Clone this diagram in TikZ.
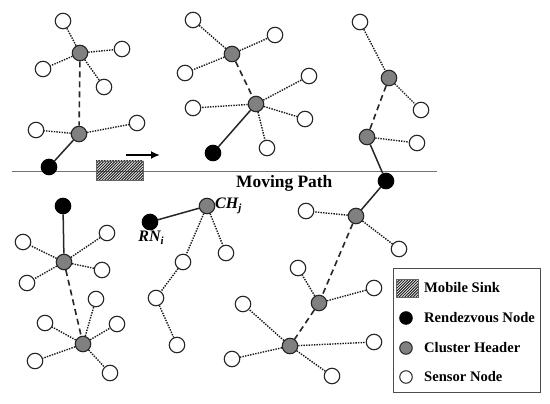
\documentclass[tikz,border=0pt]{standalone}
\usepackage{fontspec}
\setmainfont{Liberation Serif}
\usetikzlibrary{arrows.meta}
\begin{document}
\begin{tikzpicture}[x=1pt,y=-1pt,
  sn/.style={circle,draw=black!85,line width=1.1pt,fill=white,minimum size=15.5pt,inner sep=0pt},
  ch/.style={circle,draw=black!85,line width=1.1pt,fill=black!50,minimum size=15.5pt,inner sep=0pt},
  rn/.style={circle,draw=black,line width=1.1pt,fill=black,minimum size=15.5pt,inner sep=0pt},
  dl/.style={draw=black!90,line width=1.4pt,dash pattern=on 1.4pt off 1.2pt},
  dsh/.style={draw=black!85,line width=1.6pt,dash pattern=on 6pt off 4pt},
  sol/.style={draw=black!85,line width=1.5pt},
  lbl/.style={font=\fontsize{14.6}{16}\selectfont\bfseries,inner sep=0pt,anchor=west},
  lsn/.style={circle,draw=black!85,line width=1pt,minimum size=12.5pt,inner sep=0pt},
  hatch/.style={draw=black!60,line width=0.8pt,inner sep=0pt,
    path picture={\foreach \i in {-24,-21.2,...,50} {\draw[black!85,line width=1pt] ([xshift=\i pt,yshift=-2pt]path picture bounding box.south west) -- ++(26pt,26pt);}}}
]
\useasboundingbox (0,0) rectangle (550,404);
\fill[white] (0,0) rectangle (550,404);
% moving path
\coordinate (pl) at (12,171);
\coordinate (pr) at (437,171);
\draw[black!55,line width=0.9pt] (pl) -- (pr);
\node[font=\fontsize{17.4}{19}\selectfont\bfseries,anchor=base west,inner sep=0pt] (mp) at (236,188) {Moving Path};
% mobile sink
\node[hatch,minimum width=47pt,minimum height=19pt] (ms) at (119.5,170.5) {};
\coordinate (a1) at (126,155);
\coordinate (a2) at (160,155);
\draw[line width=1.8pt,-{Latex[length=9pt,width=8pt]}] (a1) -- (a2);

% cluster 1
\node[ch] (c1a) at (80,53) {};
\node[ch] (c1b) at (79,134) {};
\node[rn] (r1) at (49,167) {};
\node[sn] (s11) at (63,21) {};
\node[sn] (s12) at (122,49) {};
\node[sn] (s13) at (43,69) {};
\node[sn] (s14) at (104,87) {};
\node[sn] (s15) at (36,130) {};
\node[sn] (s16) at (137,123) {};
\draw[dl] (s11) -- (c1a); \draw[dl] (c1a) -- (s12); \draw[dl] (c1a) -- (s13); \draw[dl] (c1a) -- (s14);
\draw[dsh] (c1a) -- (c1b);
\draw[dl] (c1b) -- (s15); \draw[dl] (c1b) -- (s16);
\draw[sol] (c1b) -- (r1);

% cluster 2
\node[ch] (c2a) at (232,54) {};
\node[ch] (c2b) at (256,104) {};
\node[rn] (r2) at (213,153) {};
\node[sn] (s21) at (193,20) {};
\node[sn] (s22) at (275,35) {};
\node[sn] (s23) at (185,73) {};
\node[sn] (s24) at (309,76) {};
\node[sn] (s25) at (193,108) {};
\node[sn] (s26) at (305,119) {};
\node[sn] (s27) at (267,148) {};
\draw[dl] (s21) -- (c2a); \draw[dl] (c2a) -- (s22); \draw[dl] (c2a) -- (s23);
\draw[dsh] (c2a) -- (c2b);
\draw[dl] (c2b) -- (s24); \draw[dl] (c2b) -- (s25); \draw[dl] (c2b) -- (s26); \draw[dl] (c2b) -- (s27);
\draw[sol] (c2b) -- (r2);

% cluster 3 and 4
\node[ch] (c3a) at (389,78) {};
\node[ch] (c3b) at (367,137) {};
\node[rn] (r3) at (386,181) {};
\node[sn] (s31) at (360,22) {};
\node[sn] (s32) at (421,110) {};
\node[sn] (s33) at (417,143) {};
\draw[dl] (s31) -- (c3a); \draw[dl] (c3a) -- (s32);
\draw[dsh] (c3a) -- (c3b);
\draw[dl] (c3b) -- (s33);
\draw[sol] (c3b) -- (r3);
\node[ch] (c4a) at (356,216) {};
\node[ch] (c4b) at (319,303) {};
\node[ch] (c4c) at (290,346) {};
\node[sn] (s41) at (306,211) {};
\node[sn] (s42) at (399,249) {};
\node[sn] (s43) at (298,268) {};
\node[sn] (s44) at (374,288) {};
\node[sn] (s45) at (243,304) {};
\node[sn] (s46) at (374,342) {};
\node[sn] (s47) at (232,359) {};
\node[sn] (s48) at (332,376) {};
\draw[sol] (r3) -- (c4a);
\draw[dl] (c4a) -- (s41); \draw[dl] (c4a) -- (s42);
\draw[dsh] (c4a) -- (c4b);
\draw[dl] (c4b) -- (s43); \draw[dl] (c4b) -- (s44);
\draw[dsh] (c4b) -- (c4c);
\draw[dl] (c4c) -- (s45); \draw[dl] (c4c) -- (s46); \draw[dl] (c4c) -- (s47); \draw[dl] (c4c) -- (s48);

% cluster 5
\node[rn] (r5) at (63,206) {};
\node[ch] (c5a) at (64,262) {};
\node[ch] (c5b) at (83,344) {};
\node[sn] (s51) at (23,242) {};
\node[sn] (s52) at (107,233) {};
\node[sn] (s53) at (102,270) {};
\node[sn] (s54) at (27,283) {};
\node[sn] (s55) at (96,299) {};
\node[sn] (s56) at (45,323) {};
\node[sn] (s57) at (117,324) {};
\node[sn] (s58) at (35,361) {};
\node[sn] (s59) at (110,373) {};
\draw[sol] (r5) -- (c5a);
\draw[dl] (c5a) -- (s51); \draw[dl] (c5a) -- (s52); \draw[dl] (c5a) -- (s53); \draw[dl] (c5a) -- (s54);
\draw[dsh] (c5a) -- (c5b);
\draw[dl] (c5b) -- (s55); \draw[dl] (c5b) -- (s56); \draw[dl] (c5b) -- (s57); \draw[dl] (c5b) -- (s58); \draw[dl] (c5b) -- (s59);

% cluster 6
\node[rn] (ri) at (150,222) {};
\node[ch] (chj) at (207,206) {};
\node[sn] (s61) at (226,253) {};
\node[sn] (s62) at (183,262) {};
\node[sn] (s63) at (156,298) {};
\node[sn] (s64) at (177,345) {};
\draw[sol] (ri) -- (chj);
\draw[dl] (chj) -- (s61); \draw[dl] (chj) -- (s62); \draw[dl] (s62) -- (s63); \draw[dl] (s63) -- (s64);
\node[font=\fontsize{16}{18}\selectfont\bfseries\itshape,anchor=west,inner sep=0pt] (chl) at (215,206) {CH\raisebox{-0.35ex}{\fontsize{11}{12}\selectfont j}};
\node[font=\fontsize{16}{18}\selectfont\bfseries\itshape,anchor=center,inner sep=0pt] (rnl) at (151,238) {RN\raisebox{-0.35ex}{\fontsize{11}{12}\selectfont i}};

% legend
\node[draw=black!70,line width=1pt,minimum width=147pt,minimum height=124pt,inner sep=0pt,fill=white] (leg) at (466.5,330) {};
\node[hatch,minimum width=22pt,minimum height=18pt] (lms) at (407,288) {};
\node[lbl] (t1) at (424,288) {Mobile Sink};
\node[lsn,fill=black,draw=black] (lrn) at (406,318) {};
\node[lbl] (t2) at (424,318) {Rendezvous Node};
\node[lsn,fill=black!50] (lch) at (406,348) {};
\node[lbl] (t3) at (424,348) {Cluster Header};
\node[lsn,fill=white] (lsn1) at (406,377) {};
\node[lbl] (t4) at (424,377) {Sensor Node};
\end{tikzpicture}
\end{document}
